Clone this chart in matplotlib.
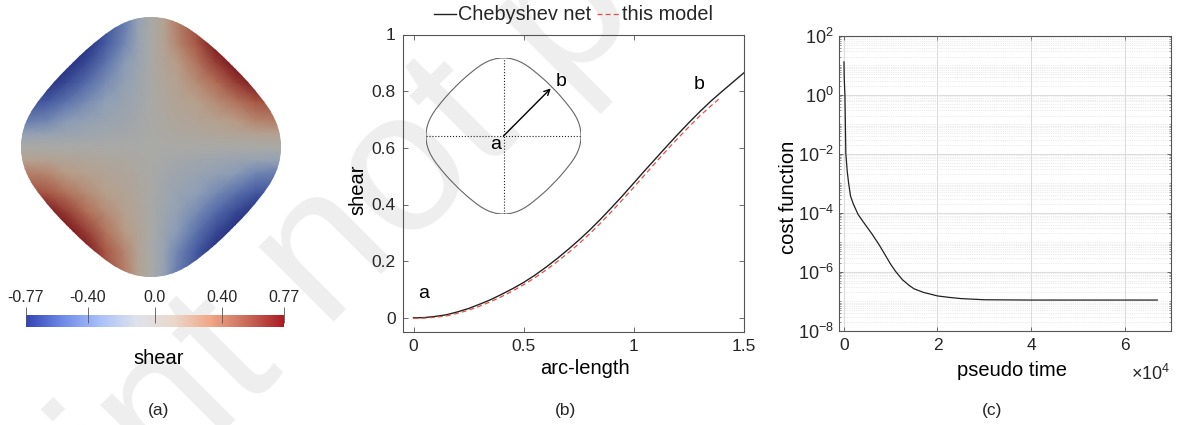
import numpy as np
import matplotlib
matplotlib.use('Agg')
import matplotlib.pyplot as plt
from matplotlib.colors import LinearSegmentedColormap, Normalize
from matplotlib.cm import ScalarMappable
from matplotlib.path import Path
from matplotlib.patches import PathPatch
from matplotlib.ticker import LogLocator, NullFormatter, FixedLocator, FuncFormatter

plt.rcParams['font.family'] = ['Liberation Sans', 'DejaVu Sans']
plt.rcParams['mathtext.fontset'] = 'custom'
plt.rcParams['mathtext.rm'] = 'Liberation Sans'

W, H = 1178, 425
DARK = '#262626'
EDGE = '#555555'

# outline of the sheet, one quadrant as bezier control points, normalised
outline_x = [0, .2, .33, .5, .58, .675, .745, .89, 1, 1]
outline_y = [1, 1, .89, .745, .675, .58, .5, .33, .2, 0]

# shear magnitude, one quadrant
field_grid = [0, .04, .1, .2, .35, .5, .65, .8, 1.05]
field_vals = [[0, 0, 0, 0, 0, 0, 0, 0, 0],
              [0, .005, .01, .02, .03, .04, .05, .06, .07],
              [0, .01, .03, .05, .08, .11, .14, .17, .20],
              [0, .02, .05, .10, .15, .20, .27, .36, .42],
              [0, .03, .08, .15, .24, .34, .44, .55, .60],
              [0, .04, .11, .20, .34, .48, .63, .75, .77],
              [0, .05, .14, .27, .44, .63, .82, .82, .82],
              [0, .06, .17, .36, .55, .75, .82, .82, .82],
              [0, .07, .20, .42, .60, .77, .82, .82, .82]]

bar_ticks = [-0.77, -0.40, 0.0, 0.40, 0.77]
bar_labels = ['-0.77', '-0.40', '0.0', '0.40', '0.77']

# panel b
arc = [0, .05, .1, .15, .2, .25, .3, .35, .4, .45, .5, .55, .6, .65, .7, .75, .8, .85, .9, .95,
       1.0, 1.05, 1.1, 1.15, 1.2, 1.25, 1.3, 1.35, 1.4, 1.45, 1.5]
cheb = [0, .001, .005, .011, .021, .033, .048, .064, .083, .103, .125, .15, .178, .208, .24, .274,
        .31, .349, .39, .432, .476, .52, .563, .606, .648, .689, .728, .765, .799, .832, .865]
arc_model = [0, .05, .1, .15, .2, .25, .3, .35, .4, .45, .5, .55, .6, .65, .7, .75, .8, .85, .9, .95,
             1.0, 1.05, 1.1, 1.15, 1.2, 1.25, 1.3, 1.35, 1.39]
model = [-.002, -.001, .002, .007, .016, .027, .041, .057, .075, .095, .117, .141, .168, .197, .228,
         .261, .297, .335, .376, .418, .461, .505, .549, .592, .634, .674, .713, .748, .775]

# panel c
ptime = [0, .005, .02, .04, .07, .1, .14, .2, .3, .4, .5, .6, .75, .9, 1.0, 1.1, 1.25, 1.4, 1.5, 1.7, 2.0,
         2.25, 2.5, 3.0, 4.0, 5.0, 6.7]
log_cost = [1.12, .6, 0, -2, -2.6, -3.0, -3.43, -3.7, -4.05, -4.28, -4.5, -4.72, -5.08, -5.48, -5.75,
            -5.98, -6.27, -6.47, -6.58, -6.7, -6.82, -6.87, -6.91, -6.95, -6.96, -6.96, -6.96]


def axes_px(left, top, right, bottom):
    return fig.add_axes([left / W, 1 - bottom / H, (right - left) / W, (bottom - top) / H])


def outline_path():
    # the quadrant repeats under quarter turns
    x = np.array(outline_x)
    y = np.array(outline_y)
    verts = [(x[0], y[0])]
    codes = [Path.MOVETO]
    for k in range(4):
        for px, py in zip(x[1:], y[1:]):
            verts.append((px, py))
            codes.append(Path.CURVE4)
        x, y = y, -x
    return Path(verts, codes)


fig = plt.figure(figsize=(W / 100, H / 100), dpi=100)
fig.text(585 / W, 1 - (-2) / H, 'Preprint not peer reviewed', fontsize=145, color='#eeeeee', rotation=45,
         ha='center', va='center', rotation_mode='anchor', zorder=-5)

# (a) shear field
shape_cmap = LinearSegmentedColormap.from_list('shape', ['#232b7c', '#4a62a8', '#8e9fb8', '#a9a9a6',
                                                         '#b89f8a', '#b0644c', '#78101a'])
ax = axes_px(21, 17, 281, 277)
ax.axis('off')
ax.patch.set_alpha(0)
ax.set_xlim(-1, 1)
ax.set_ylim(-1, 1)
g = np.array(field_grid)
v = np.array(field_vals)
gx = np.concatenate([-g[::-1][:-1], g])
top = np.hstack([-v[:, ::-1][:, :-1], v])
full = np.vstack([-top[::-1][:-1], top])
mesh = ax.pcolormesh(gx, gx, full, cmap=shape_cmap, vmin=-0.77, vmax=0.77, shading='gouraud')
clip = PathPatch(outline_path(), transform=ax.transData, fc='none', ec='none')
ax.add_patch(clip)
mesh.set_clip_path(clip)

bar_cmap = LinearSegmentedColormap.from_list('bar', ['#3344b4', '#6f8ae8', '#a9c0f8', '#dfe2ea',
                                                     '#ead8cc', '#f0a888', '#c86a5a', '#aa1c22'])
cax = axes_px(26, 315, 284, 327)
cb = fig.colorbar(ScalarMappable(Normalize(-0.77, 0.77), bar_cmap), cax=cax, orientation='horizontal')
cb.outline.set_visible(False)
cax.xaxis.set_ticks_position('top')
cb.set_ticks(bar_ticks)
cb.set_ticklabels(bar_labels)
cax.tick_params(axis='x', direction='inout', length=11, width=0.6, color='#555555',
                labelsize=11.5, labelcolor=DARK, pad=2)
fig.text(159 / W, 1 - 359 / H, 'shear', fontsize=14.5, color='black', ha='center', va='center')
fig.text(159 / W, 1 - 410 / H, '(a)', fontsize=12.5, color=DARK, ha='center', va='center')

# (b) shear along the arc
ax = axes_px(402.5, 34.5, 744, 332)
ax.patch.set_alpha(0)
ax.plot(arc, cheb, color='#222222', lw=1.0, label='Chebyshev net')
ax.plot(arc_model, model, color='#e2504a', lw=0.9, ls=(0, (4, 2.5)), label='this model')
ax.set_xlim(-0.05, 1.5)
ax.set_ylim(-0.05, 1)
ax.set_xticks([0, .5, 1, 1.5])
ax.set_xticklabels(['0', '0.5', '1', '1.5'])
ax.set_yticks([0, .2, .4, .6, .8, 1])
ax.set_yticklabels(['0', '0.2', '0.4', '0.6', '0.8', '1'])
ax.tick_params(direction='in', length=3.5, width=0.6, color=EDGE, labelcolor=DARK, labelsize=12.5,
               top=True, right=True, pad=5)
for s in ax.spines.values():
    s.set_color(EDGE)
    s.set_linewidth(0.8)
ax.set_xlabel('arc-length', fontsize=14.5, color='black')
ax.xaxis.set_label_coords(.534, -.09)
ax.set_ylabel('shear', fontsize=14.5, color='black')
ax.yaxis.set_label_coords(-.103, .477)
ax.legend(loc='lower center', bbox_to_anchor=(0.5, 0.987), ncol=2, frameon=False, fontsize=14.3,
          labelcolor=DARK, handlelength=1.1, handletextpad=0.12, columnspacing=0.3, borderpad=0.2)
ax.text(0.02, 0.085, 'a', fontsize=14, color='black', ha='left', va='center')
ax.text(1.295, 0.825, 'b', fontsize=14, color='black', ha='center', va='center')
fig.text(566 / W, 1 - 410 / H, '(b)', fontsize=12.5, color=DARK, ha='center', va='center')

# inset sketch, same outline as panel a
ins = axes_px(426, 58, 581, 214)
ins.axis('off')
ins.patch.set_alpha(0)
ins.set_xlim(-1, 1)
ins.set_ylim(-1, 1)
ins.add_patch(PathPatch(outline_path(), fc='none', ec='#666666', lw=0.8))
ins.plot([-1, 1], [0, 0], color='#222222', lw=0.8, ls=':')
ins.plot([0, 0], [-1, 1], color='#222222', lw=0.8, ls=':')
ins.annotate('', xy=(.61, .61), xytext=(0, 0),
             arrowprops=dict(arrowstyle='->', color='black', lw=1.0, shrinkA=0, shrinkB=0))
ins.text(-.1, -.115, 'a', fontsize=14, color='black', ha='center', va='center')
ins.text(.74, .70, 'b', fontsize=14, color='black', ha='center', va='center')

# (c) convergence
ax = axes_px(839.3, 36, 1171.3, 330.7)
ax.patch.set_alpha(0)
ax.semilogy(np.array(ptime) * 1e4, 10.0 ** np.array(log_cost), color='#222222', lw=0.9)
ax.set_xlim(-1000, 70000)
ax.set_ylim(1e-8, 1e2)
ax.xaxis.set_major_locator(FixedLocator([0, 20000, 40000, 60000]))
ax.xaxis.set_major_formatter(FuncFormatter(lambda t, pos: '%d' % (t / 1e4)))
ax.yaxis.set_major_locator(FixedLocator([1e-8, 1e-6, 1e-4, 1e-2, 1, 1e2]))
ax.yaxis.set_major_formatter(FuncFormatter(lambda t, pos: '$\\mathregular{10^{%d}}$' % round(np.log10(t))))
ax.yaxis.set_minor_locator(LogLocator(base=10, subs=range(1, 10), numticks=30))
ax.yaxis.set_minor_formatter(NullFormatter())
ax.grid(True, which='major', color='#dddddd', lw=0.8)
ax.grid(True, which='minor', axis='y', color='#d8d8d8', lw=0.5, ls=':')
ax.set_axisbelow(True)
ax.tick_params(which='major', direction='in', length=3, width=0.6, color=EDGE, labelcolor=DARK,
               labelsize=13, top=True, right=True, pad=4)
ax.tick_params(axis='x', which='major', labelsize=12.5, pad=5)
ax.tick_params(which='minor', direction='in', length=1.5, width=0.4, color=EDGE, right=True)
for s in ax.spines.values():
    s.set_color(EDGE)
    s.set_linewidth(0.8)
ax.set_xlabel('pseudo time', fontsize=14.5, color='black')
ax.xaxis.set_label_coords(.52, -.103)
ax.set_ylabel('cost function', fontsize=14.5, color='black')
ax.yaxis.set_label_coords(-.124, .454)
fig.text(1170 / W, 1 - 374 / H, '$\\mathregular{\\times 10^{4}}$', fontsize=13, color=DARK, ha='right', va='center')
fig.text(992 / W, 1 - 410 / H, '(c)', fontsize=12.5, color=DARK, ha='center', va='center')

fig.savefig('out.png', dpi=100)
